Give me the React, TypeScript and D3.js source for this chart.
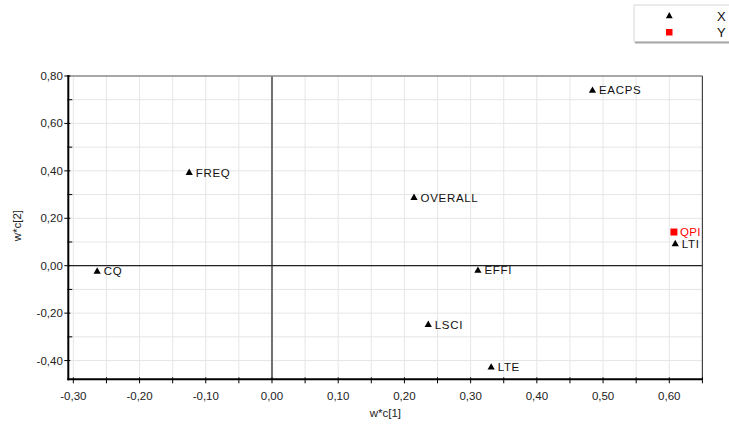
import React from "react";
import * as d3 from "d3";

const xNames = ["CQ", "FREQ", "OVERALL", "EACPS", "LTI", "EFFI", "LSCI", "LTE"];
const xWc1 = [-0.264, -0.125, 0.2145, 0.484, 0.609, 0.311, 0.236, 0.331];
const xWc2 = [-0.022, 0.395, 0.289, 0.741, 0.094, -0.018, -0.246, -0.426];

const yNames = ["QPI"];
const yWc1 = [0.607];
const yWc2 = [0.142];

const xTicks = [-0.3, -0.2, -0.1, 0, 0.1, 0.2, 0.3, 0.4, 0.5, 0.6];
const xMinor = [-0.25, -0.15, -0.05, 0.05, 0.15, 0.25, 0.35, 0.45, 0.55, 0.65];
const yTicks = [-0.4, -0.2, 0, 0.2, 0.4, 0.6, 0.8];
const yMinor = [-0.3, -0.1, 0.1, 0.3, 0.5, 0.7];

const legendNames = ["X", "Y"];

const W = 729;
const H = 428;

const locale = d3.formatLocale({
  decimal: ",",
  thousands: ".",
  grouping: [3],
  currency: ["", ""],
  minus: "-",
});
const fmt = locale.format(".2f");

const FONT = "'Liberation Sans', Arial, sans-serif";

function tri(cx: number, cy: number, s = 3.6) {
  return `M${cx},${cy - s}L${cx + s},${cy + s * 0.8}L${cx - s},${cy + s * 0.8}Z`;
}

export default function App() {
  const x = d3.scaleLinear().domain([-0.3076, 0.65]).range([68.3, 702.4]);
  const y = d3.scaleLinear().domain([-0.479, 0.8]).range([379.3, 76]);
  const [x0, x1] = x.range();
  const [y0, y1] = y.range();

  return (
    <svg
      width={W}
      height={H}
      style={{ position: "absolute", left: 0, top: 0, background: "#fff" }}
      fontFamily={FONT}
    >
      <rect x={0} y={0} width={W} height={H} fill="#fff" />
      {/* grid */}
      {[...xTicks, ...xMinor]
        .filter((v) => v < 0.649)
        .map((v, i) => (
          <line key={"gx" + i} x1={x(v)} x2={x(v)} y1={y1} y2={y0} stroke="#e6e6e6" strokeWidth={1} />
        ))}
      {[...yTicks, ...yMinor]
        .filter((v) => v < 0.79)
        .map((v, i) => (
          <line key={"gy" + i} x1={x0} x2={x1} y1={y(v)} y2={y(v)} stroke="#e6e6e6" strokeWidth={1} />
        ))}
      {/* zero lines */}
      <line x1={x(0)} x2={x(0)} y1={y1} y2={y0} stroke="#707070" strokeWidth={2} />
      <line x1={x0} x2={x1} y1={y(0)} y2={y(0)} stroke="#222" strokeWidth={1.2} />
      {/* frame */}
      <line x1={x0} x2={x1} y1={y1} y2={y1} stroke="#8a8a8a" strokeWidth={1.6} />
      <line x1={x1} x2={x1} y1={y1} y2={y0} stroke="#444" strokeWidth={1.2} />
      <line x1={x0} x2={x0} y1={y1 - 1} y2={y0 + 1} stroke="#000" strokeWidth={2} />
      <line x1={x0 - 1} x2={x1} y1={y0} y2={y0} stroke="#000" strokeWidth={2} />
      {/* x ticks */}
      {xTicks.map((v, i) => (
        <g key={"xt" + i}>
          <line x1={x(v)} x2={x(v)} y1={y0 - 2} y2={y0 + 4} stroke="#000" strokeWidth={1} />
          <text x={x(v)} y={y0 + 20.5} textAnchor="middle" fontSize={11.5} fill="#222">
            {fmt(v)}
          </text>
        </g>
      ))}
      {xMinor.map((v, i) => (
        <line key={"xm" + i} x1={x(v)} x2={x(v)} y1={y0 - 2} y2={y0 + 4} stroke="#000" strokeWidth={1} />
      ))}
      {/* y ticks */}
      {yTicks.map((v, i) => (
        <g key={"yt" + i}>
          <line x1={x0 - 4} x2={x0 + 2} y1={y(v)} y2={y(v)} stroke="#000" strokeWidth={1} />
          <text x={x0 - 5.5} y={y(v) + 4} textAnchor="end" fontSize={11.5} fill="#222">
            {fmt(v)}
          </text>
        </g>
      ))}
      {yMinor.map((v, i) => (
        <line key={"ym" + i} x1={x0 - 1} x2={x0 + 4} y1={y(v)} y2={y(v)} stroke="#000" strokeWidth={1} />
      ))}
      {/* axis titles */}
      <text x={(x0 + x1) / 2} y={417} textAnchor="middle" fontSize={11.5} fill="#222">
        w*c[1]
      </text>
      <text
        transform={`translate(21,${(y0 + y1) / 2 - 2}) rotate(-90)`}
        textAnchor="middle"
        fontSize={11.5}
        fill="#222"
      >
        w*c[2]
      </text>
      {/* X points */}
      {xNames.map((n, i) => (
        <g key={"p" + i}>
          <path d={tri(x(xWc1[i]), y(xWc2[i]))} fill="#000" />
          <text x={x(xWc1[i]) + 6.5} y={y(xWc2[i]) + 4.5} fontSize={11.5} letterSpacing={0.7} fill="#111">
            {n}
          </text>
        </g>
      ))}
      {/* Y points */}
      {yNames.map((n, i) => (
        <g key={"q" + i}>
          <rect x={x(yWc1[i]) - 3.5} y={y(yWc2[i]) - 3.5} width={7} height={7} fill="#ff0000" />
          <text x={x(yWc1[i]) + 6} y={y(yWc2[i]) + 3.5} fontSize={11.5} letterSpacing={0.3} fill="#ff0000">
            {n}
          </text>
        </g>
      ))}
      {/* legend */}
      <rect x={634} y={5} width={100} height={37} fill="#fff" stroke="#d8d8d8" strokeWidth={1} />
      <line x1={635} x2={729} y1={42.5} y2={42.5} stroke="#a8a8a8" strokeWidth={2} />
      <path d={tri(669.3, 15.5, 3.4)} fill="#000" />
      <text x={717} y={20.5} fontSize={13} fill="#111">
        {legendNames[0]}
      </text>
      <rect x={666} y={29} width={6.5} height={6.5} fill="#ff0000" />
      <text x={717} y={37} fontSize={13} fill="#111">
        {legendNames[1]}
      </text>
    </svg>
  );
}
